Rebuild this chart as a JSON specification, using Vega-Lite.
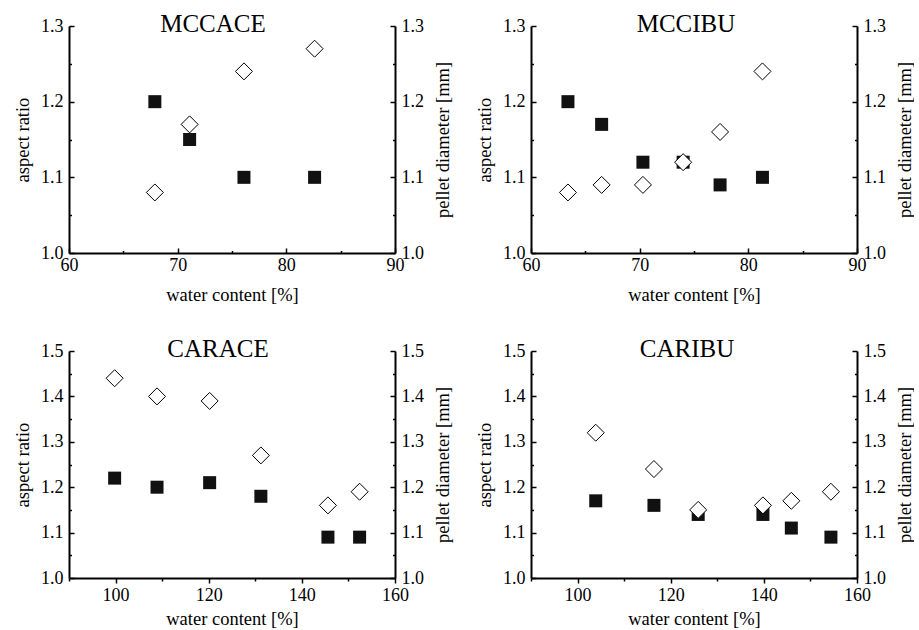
{
  "$schema": "https://vega.github.io/schema/vega-lite/v6.json",
  "padding": {"left": 13, "top": 12, "right": 0, "bottom": 0},
  "background": "white",
  "datasets": {
    "pts": [
      {"panel": "MCCACE", "wc": 67.9, "ar": 1.20, "pd": 1.08},
      {"panel": "MCCACE", "wc": 71.1, "ar": 1.15, "pd": 1.17},
      {"panel": "MCCACE", "wc": 76.1, "ar": 1.10, "pd": 1.24},
      {"panel": "MCCACE", "wc": 82.6, "ar": 1.10, "pd": 1.27},
      {"panel": "MCCIBU", "wc": 63.4, "ar": 1.20, "pd": 1.08},
      {"panel": "MCCIBU", "wc": 66.5, "ar": 1.17, "pd": 1.09},
      {"panel": "MCCIBU", "wc": 70.3, "ar": 1.12, "pd": 1.09},
      {"panel": "MCCIBU", "wc": 74.0, "ar": 1.12, "pd": 1.12},
      {"panel": "MCCIBU", "wc": 77.4, "ar": 1.09, "pd": 1.16},
      {"panel": "MCCIBU", "wc": 81.3, "ar": 1.10, "pd": 1.24},
      {"panel": "CARACE", "wc": 99.8, "ar": 1.22, "pd": 1.44},
      {"panel": "CARACE", "wc": 108.9, "ar": 1.20, "pd": 1.40},
      {"panel": "CARACE", "wc": 120.2, "ar": 1.21, "pd": 1.39},
      {"panel": "CARACE", "wc": 131.2, "ar": 1.18, "pd": 1.27},
      {"panel": "CARACE", "wc": 145.6, "ar": 1.09, "pd": 1.16},
      {"panel": "CARACE", "wc": 152.4, "ar": 1.09, "pd": 1.19},
      {"panel": "CARIBU", "wc": 103.9, "ar": 1.17, "pd": 1.32},
      {"panel": "CARIBU", "wc": 116.4, "ar": 1.16, "pd": 1.24},
      {"panel": "CARIBU", "wc": 125.9, "ar": 1.14, "pd": 1.15},
      {"panel": "CARIBU", "wc": 139.8, "ar": 1.14, "pd": 1.16},
      {"panel": "CARIBU", "wc": 145.9, "ar": 1.11, "pd": 1.17},
      {"panel": "CARIBU", "wc": 154.4, "ar": 1.09, "pd": 1.19}
    ]
  },
  "data": {"name": "pts"},
  "columns": 2,
  "spacing": {"row": 33, "column": 23},
  "concat": [
    {
      "width": 326, "height": 227,
      "title": {"text": "MCCACE", "dx": -19, "offset": -20},
      "transform": [{"filter": "datum.panel == 'MCCACE'"}],
      "encoding": {
        "x": {"field": "wc", "type": "quantitative", "scale": {"domain": [60, 90], "nice": false, "zero": false},
          "axis": {"title": "water content [%]", "values": [60, 65, 70, 75, 80, 85, 90],
            "labelExpr": "datum.value % 10 == 0 ? datum.label : ''",
            "tickSize": {"condition": {"test": "datum.value % 10 == 0", "value": -5}, "value": -2.5},
            "labelPadding": 8, "titlePadding": 9}}
      },
      "layer": [
        {"mark": {"type": "point", "shape": "square", "filled": true, "size": 169, "color": "#111111", "opacity": 1},
          "encoding": {"y": {"field": "ar", "type": "quantitative", "scale": {"domain": [1.0, 1.3], "nice": false, "zero": false},
            "axis": {"orient": "left", "title": "aspect ratio", "values": [1.0, 1.05, 1.1, 1.15, 1.2, 1.25, 1.3],
              "labelExpr": "abs(datum.value*10-round(datum.value*10))<0.01 ? format(datum.value,'.1f') : ''",
              "tickSize": {"condition": {"test": "abs(datum.value*10-round(datum.value*10))<0.01", "value": -5}, "value": -2.5},
              "labelPadding": 11, "titlePadding": 8}}}},
        {"mark": {"type": "point", "shape": "diamond", "filled": true, "fill": "white", "stroke": "black", "strokeWidth": 1, "size": 289, "opacity": 1},
          "encoding": {"y": {"field": "pd", "type": "quantitative", "scale": {"domain": [1.0, 1.3], "nice": false, "zero": false},
            "axis": {"orient": "right", "title": "pellet diameter [mm]", "titleAngle": 270, "titleBaseline": "top", "values": [1.0, 1.05, 1.1, 1.15, 1.2, 1.25, 1.3],
              "labelExpr": "abs(datum.value*10-round(datum.value*10))<0.01 ? format(datum.value,'.1f') : ''",
              "tickSize": {"condition": {"test": "abs(datum.value*10-round(datum.value*10))<0.01", "value": -5}, "value": -2.5},
              "labelPadding": 11, "titlePadding": 10}}}}
      ],
      "resolve": {"scale": {"y": "independent"}}
    },
    {
      "width": 326, "height": 227,
      "title": {"text": "MCCIBU", "dx": -8, "offset": -20},
      "transform": [{"filter": "datum.panel == 'MCCIBU'"}],
      "encoding": {
        "x": {"field": "wc", "type": "quantitative", "scale": {"domain": [60, 90], "nice": false, "zero": false},
          "axis": {"title": "water content [%]", "values": [60, 65, 70, 75, 80, 85, 90],
            "labelExpr": "datum.value % 10 == 0 ? datum.label : ''",
            "tickSize": {"condition": {"test": "datum.value % 10 == 0", "value": -5}, "value": -2.5},
            "labelPadding": 8, "titlePadding": 9}}
      },
      "layer": [
        {"mark": {"type": "point", "shape": "square", "filled": true, "size": 169, "color": "#111111", "opacity": 1},
          "encoding": {"y": {"field": "ar", "type": "quantitative", "scale": {"domain": [1.0, 1.3], "nice": false, "zero": false},
            "axis": {"orient": "left", "title": "aspect ratio", "values": [1.0, 1.05, 1.1, 1.15, 1.2, 1.25, 1.3],
              "labelExpr": "abs(datum.value*10-round(datum.value*10))<0.01 ? format(datum.value,'.1f') : ''",
              "tickSize": {"condition": {"test": "abs(datum.value*10-round(datum.value*10))<0.01", "value": -5}, "value": -2.5},
              "labelPadding": 11, "titlePadding": 8}}}},
        {"mark": {"type": "point", "shape": "diamond", "filled": true, "fill": "white", "stroke": "black", "strokeWidth": 1, "size": 289, "opacity": 1},
          "encoding": {"y": {"field": "pd", "type": "quantitative", "scale": {"domain": [1.0, 1.3], "nice": false, "zero": false},
            "axis": {"orient": "right", "title": "pellet diameter [mm]", "titleAngle": 270, "titleBaseline": "top", "values": [1.0, 1.05, 1.1, 1.15, 1.2, 1.25, 1.3],
              "labelExpr": "abs(datum.value*10-round(datum.value*10))<0.01 ? format(datum.value,'.1f') : ''",
              "tickSize": {"condition": {"test": "abs(datum.value*10-round(datum.value*10))<0.01", "value": -5}, "value": -2.5},
              "labelPadding": 11, "titlePadding": 10}}}}
      ],
      "resolve": {"scale": {"y": "independent"}}
    },
    {
      "width": 326, "height": 227,
      "title": {"text": "CARACE", "dx": -14, "offset": -20},
      "transform": [{"filter": "datum.panel == 'CARACE'"}],
      "encoding": {
        "x": {"field": "wc", "type": "quantitative", "scale": {"domain": [90, 160], "nice": false, "zero": false},
          "axis": {"title": "water content [%]", "values": [90, 100, 110, 120, 130, 140, 150, 160],
            "labelExpr": "datum.value % 20 == 0 ? datum.label : ''",
            "tickSize": {"condition": {"test": "datum.value % 20 == 0", "value": 5}, "value": 3},
            "labelPadding": 3, "titlePadding": 5}}
      },
      "layer": [
        {"mark": {"type": "point", "shape": "square", "filled": true, "size": 169, "color": "#111111", "opacity": 1},
          "encoding": {"y": {"field": "ar", "type": "quantitative", "scale": {"domain": [1.0, 1.5], "nice": false, "zero": false},
            "axis": {"orient": "left", "title": "aspect ratio", "values": [1.0, 1.05, 1.1, 1.15, 1.2, 1.25, 1.3, 1.35, 1.4, 1.45, 1.5],
              "labelExpr": "abs(datum.value*10-round(datum.value*10))<0.01 ? format(datum.value,'.1f') : ''",
              "tickSize": {"condition": {"test": "abs(datum.value*10-round(datum.value*10))<0.01", "value": -5}, "value": -2.5},
              "labelPadding": 11, "titlePadding": 8}}}},
        {"mark": {"type": "point", "shape": "diamond", "filled": true, "fill": "white", "stroke": "black", "strokeWidth": 1, "size": 289, "opacity": 1},
          "encoding": {"y": {"field": "pd", "type": "quantitative", "scale": {"domain": [1.0, 1.5], "nice": false, "zero": false},
            "axis": {"orient": "right", "title": "pellet diameter [mm]", "titleAngle": 270, "titleBaseline": "top", "values": [1.0, 1.05, 1.1, 1.15, 1.2, 1.25, 1.3, 1.35, 1.4, 1.45, 1.5],
              "labelExpr": "abs(datum.value*10-round(datum.value*10))<0.01 ? format(datum.value,'.1f') : ''",
              "tickSize": {"condition": {"test": "abs(datum.value*10-round(datum.value*10))<0.01", "value": -5}, "value": -2.5},
              "labelPadding": 11, "titlePadding": 10}}}}
      ],
      "resolve": {"scale": {"y": "independent"}}
    },
    {
      "width": 326, "height": 227,
      "title": {"text": "CARIBU", "dx": -7, "offset": -20},
      "transform": [{"filter": "datum.panel == 'CARIBU'"}],
      "encoding": {
        "x": {"field": "wc", "type": "quantitative", "scale": {"domain": [90, 160], "nice": false, "zero": false},
          "axis": {"title": "water content [%]", "values": [90, 100, 110, 120, 130, 140, 150, 160],
            "labelExpr": "datum.value % 20 == 0 ? datum.label : ''",
            "tickSize": {"condition": {"test": "datum.value % 20 == 0", "value": 5}, "value": 3},
            "labelPadding": 3, "titlePadding": 5}}
      },
      "layer": [
        {"mark": {"type": "point", "shape": "square", "filled": true, "size": 169, "color": "#111111", "opacity": 1},
          "encoding": {"y": {"field": "ar", "type": "quantitative", "scale": {"domain": [1.0, 1.5], "nice": false, "zero": false},
            "axis": {"orient": "left", "title": "aspect ratio", "values": [1.0, 1.05, 1.1, 1.15, 1.2, 1.25, 1.3, 1.35, 1.4, 1.45, 1.5],
              "labelExpr": "abs(datum.value*10-round(datum.value*10))<0.01 ? format(datum.value,'.1f') : ''",
              "tickSize": {"condition": {"test": "abs(datum.value*10-round(datum.value*10))<0.01", "value": -5}, "value": -2.5},
              "labelPadding": 11, "titlePadding": 8}}}},
        {"mark": {"type": "point", "shape": "diamond", "filled": true, "fill": "white", "stroke": "black", "strokeWidth": 1, "size": 289, "opacity": 1},
          "encoding": {"y": {"field": "pd", "type": "quantitative", "scale": {"domain": [1.0, 1.5], "nice": false, "zero": false},
            "axis": {"orient": "right", "title": "pellet diameter [mm]", "titleAngle": 270, "titleBaseline": "top", "values": [1.0, 1.05, 1.1, 1.15, 1.2, 1.25, 1.3, 1.35, 1.4, 1.45, 1.5],
              "labelExpr": "abs(datum.value*10-round(datum.value*10))<0.01 ? format(datum.value,'.1f') : ''",
              "tickSize": {"condition": {"test": "abs(datum.value*10-round(datum.value*10))<0.01", "value": -5}, "value": -2.5},
              "labelPadding": 11, "titlePadding": 10}}}}
      ],
      "resolve": {"scale": {"y": "independent"}}
    }
  ],
  "config": {
    "view": {"stroke": null},
    "font": "Liberation Serif",
    "title": {"font": "Liberation Serif", "fontSize": 25, "fontWeight": "normal", "color": "black", "anchor": "middle", "frame": "group", "baseline": "alphabetic"},
    "axis": {"labelFont": "Liberation Serif", "titleFont": "Liberation Serif", "labelFontSize": 18, "titleFontSize": 18.5, "titleFontWeight": "normal", "labelColor": "black", "titleColor": "black", "domainColor": "black", "domainWidth": 2, "tickColor": "black", "tickWidth": 1.5, "grid": false, "labelOverlap": false, "labelFlush": false}
  }
}
